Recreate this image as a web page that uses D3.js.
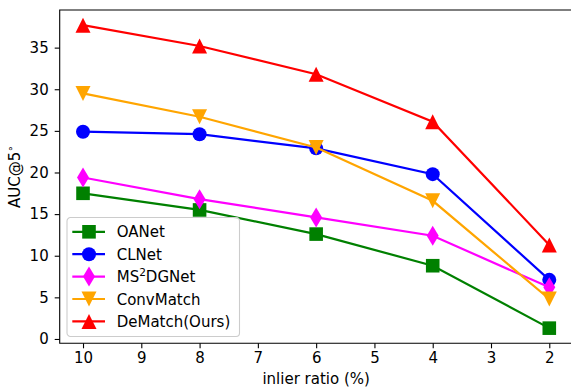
<!DOCTYPE html>
<html>
<head>
<meta charset="utf-8">
<script src="https://cdn.jsdelivr.net/npm/d3@7"></script>
<style>
  body { margin: 0; background: #fff; }
  svg { display: block; font-family: "DejaVu Sans", sans-serif; }
</style>
</head>
<body>
<svg id="chart"></svg>
<script>
// inlier ratio (%) on the x axis
var ratios = [10, 8, 6, 4, 2];
var xTicks = [10, 9, 8, 7, 6, 5, 4, 3, 2];
var yTicks = [0, 5, 10, 15, 20, 25, 30, 35];

var oanet = [17.5, 15.5, 12.6, 8.8, 1.3];
var clnet = [24.9, 24.6, 22.9, 19.8, 7.1];
var ms2dgnet = [19.4, 16.8, 14.6, 12.4, 6.2];
var convmatch = [29.5, 26.7, 23.0, 16.6, 4.8];
var dematch = [37.7, 35.2, 31.8, 26.1, 11.3];

var seriesNames = ["OANet", "CLNet", "MS2DGNet", "ConvMatch", "DeMatch(Ours)"];

function draw() {
  var width = 571, height = 388;
  var margin = { top: 10, left: 59.7, right: 572.6, bottom: 343.3 };

  var svg = d3.select("#chart").attr("width", width).attr("height", height);

  var x = d3.scaleLinear().domain([10.4, 1.6]).range([margin.left, margin.right]);
  var y = d3.scaleLinear().domain([-0.52, 39.52]).range([margin.bottom, margin.top]);

  var series = [
    { name: seriesNames[0], values: oanet, color: "#008000", marker: "square" },
    { name: seriesNames[1], values: clnet, color: "#0000ff", marker: "circle" },
    { name: seriesNames[2], values: ms2dgnet, color: "#ff00ff", marker: "diamond" },
    { name: seriesNames[3], values: convmatch, color: "#ffa500", marker: "tridown" },
    { name: seriesNames[4], values: dematch, color: "#ff0000", marker: "triup" }
  ];

  // marker paths centred on 0,0
  function markerPath(kind) {
    var p = d3.path();
    if (kind == "square") {
      p.rect(-6.8, -6.8, 13.6, 13.6);
    } else if (kind == "circle") {
      p.arc(0, 0, 7, 0, 2 * Math.PI);
    } else if (kind == "diamond") {
      p.moveTo(0, -10); p.lineTo(6, 0); p.lineTo(0, 10); p.lineTo(-6, 0); p.closePath();
    } else if (kind == "tridown") {
      p.moveTo(-7.5, -7.5); p.lineTo(7.5, -7.5); p.lineTo(0, 7.5); p.closePath();
    } else {
      p.moveTo(0, -7.5); p.lineTo(7.5, 7.5); p.lineTo(-7.5, 7.5); p.closePath();
    }
    return p.toString();
  }

  // x axis
  var xAxis = d3.axisBottom(x).tickValues(xTicks).tickSize(5).tickPadding(4)
    .tickFormat(d3.format("d"));
  var gx = svg.append("g")
    .attr("transform", "translate(0," + margin.bottom + ")")
    .call(xAxis);
  gx.select(".domain").remove();
  gx.selectAll("line").attr("stroke", "#000").attr("stroke-width", 1.1);
  gx.selectAll("text").attr("font-size", 15).attr("fill", "#000")
    .attr("font-family", "DejaVu Sans");

  // y axis
  var yAxis = d3.axisLeft(y).tickValues(yTicks).tickSize(5).tickPadding(6);
  var gy = svg.append("g")
    .attr("transform", "translate(" + margin.left + ",0)")
    .call(yAxis);
  gy.select(".domain").remove();
  gy.selectAll("line").attr("stroke", "#000").attr("stroke-width", 1.1);
  gy.selectAll("text").attr("font-size", 15).attr("fill", "#000")
    .attr("font-family", "DejaVu Sans");

  // lines + markers
  var line = d3.line()
    .x(function (d, i) { return x(ratios[i]); })
    .y(function (d) { return y(d); });

  series.forEach(function (s) {
    var g = svg.append("g");
    g.append("path")
      .attr("d", line(s.values))
      .attr("fill", "none")
      .attr("stroke", s.color)
      .attr("stroke-width", 2.2);
    g.selectAll("path.mk")
      .data(s.values)
      .enter()
      .append("path")
      .attr("class", "mk")
      .attr("d", markerPath(s.marker))
      .attr("transform", function (d, i) {
        return "translate(" + x(ratios[i]) + "," + y(d) + ")";
      })
      .attr("fill", s.color);
  });

  // spines
  svg.append("path")
    .attr("d", "M" + margin.left + "," + margin.top + "V" + margin.bottom +
      "H" + margin.right + "V" + margin.top + "Z")
    .attr("fill", "none")
    .attr("stroke", "#000")
    .attr("stroke-width", 1.1);

  // legend
  var lg = svg.append("g").attr("transform", "translate(67,217.5)");
  lg.append("rect")
    .attr("width", 172.5).attr("height", 119)
    .attr("rx", 3.5)
    .attr("fill", "#fff").attr("fill-opacity", 0.8)
    .attr("stroke", "#cccccc").attr("stroke-width", 1.1);

  series.forEach(function (s, i) {
    var row = lg.append("g").attr("transform", "translate(0," + (14.3 + i * 22.4) + ")");
    row.append("line")
      .attr("x1", 5.3).attr("x2", 38)
      .attr("stroke", s.color).attr("stroke-width", 2.2);
    row.append("path")
      .attr("d", markerPath(s.marker))
      .attr("transform", "translate(22,0)")
      .attr("fill", s.color);
    var t = row.append("text")
      .attr("x", 49.7).attr("y", 5.5)
      .attr("font-size", 15).attr("fill", "#000");
    if (s.name == "MS2DGNet") {
      t.append("tspan").text("MS");
      t.append("tspan").attr("dy", -6).attr("font-size", 10.5).text("2");
      t.append("tspan").attr("dy", 6).text("DGNet");
    } else {
      t.text(s.name);
    }
  });

  // axis labels
  svg.append("text")
    .attr("x", (margin.left + margin.right) / 2)
    .attr("y", 384)
    .attr("text-anchor", "middle")
    .attr("font-size", 15)
    .text("inlier ratio (%)");

  var yl = svg.append("text")
    .attr("transform", "translate(20," + ((margin.top + margin.bottom) / 2) + ") rotate(-90)")
    .attr("text-anchor", "middle")
    .attr("font-size", 15);
  yl.append("tspan").text("AUC@5");
  yl.append("tspan").attr("dy", -6).attr("font-size", 10.5).text("\u2218");
}

draw();
</script>
</body>
</html>
